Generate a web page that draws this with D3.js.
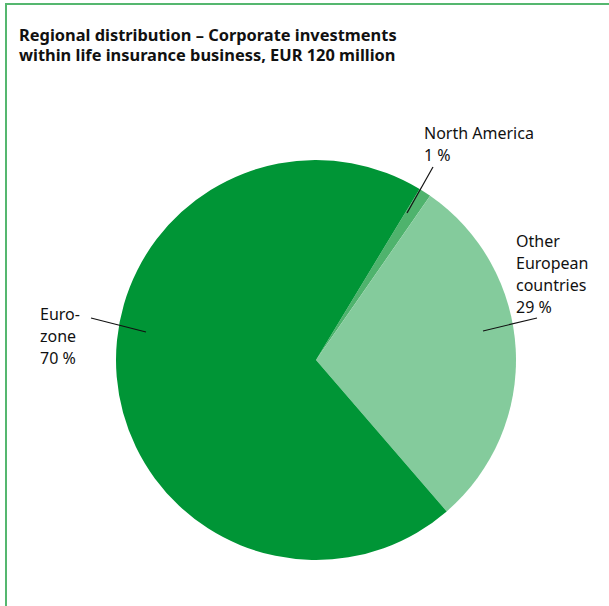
<!DOCTYPE html>
<html>
<head>
<meta charset="utf-8">
<script src="https://cdn.jsdelivr.net/npm/d3@7"></script>
<style>
  body { margin: 0; background: #fff; }
  text { font-family: "Noto Sans", sans-serif; fill: #111; }
</style>
</head>
<body>
<div id="chart"></div>
<script>
var svgWidth = 609;
var svgHeight = 606;

// data
var regions = ["North America", "Other European countries", "Eurozone"];
var shares = [1, 29, 70];
var colors = ["#4fb36d", "#84cb9c", "#009536"];
var titleLines = ["Regional distribution \u2013 Corporate investments",
                  "within life insurance business, EUR 120 million"];

var cx = 316, cy = 360, radius = 200;

var svg = d3.select("#chart")
  .append("svg")
  .attr("width", svgWidth)
  .attr("height", svgHeight);

// frame: top and left rule
svg.append("path")
  .attr("d", `M6,${svgHeight} V4 H${svgWidth}`)
  .attr("fill", "none")
  .attr("stroke", "#55b76f")
  .attr("stroke-width", 2);

// title
svg.append("text")
  .attr("x", 19)
  .attr("y", 41)
  .style("font-size", "16.4px")
  .style("font-weight", "bold")
  .selectAll("tspan")
  .data(titleLines)
  .enter()
  .append("tspan")
  .attr("x", 19)
  .attr("dy", (d, i) => i === 0 ? 0 : 20)
  .text(d => d);

var pie = d3.pie()
  .sort(null)
  .startAngle(31.2 * Math.PI / 180)
  .endAngle(31.2 * Math.PI / 180 + 2 * Math.PI);

var arc = d3.arc().innerRadius(0).outerRadius(radius);

var chartGroup = svg.append("g")
  .attr("transform", `translate(${cx}, ${cy})`);

chartGroup.selectAll("path")
  .data(pie(shares))
  .enter()
  .append("path")
  .attr("d", arc)
  .attr("fill", (d, i) => colors[i]);

// labels with leader lines (anchor points relative to page)
var labels = [
  { lines: ["North America", "1 %"], x: 424, y: 139, line: [[433, 167], [407, 213]] },
  { lines: ["Other", "European", "countries", "29 %"], x: 516, y: 247, line: [[537, 318], [483, 331]] },
  { lines: ["Euro-", "zone", "70 %"], x: 40, y: 320, line: [[91, 318], [146, 332]] }
];

labels.forEach(function(lab) {
  svg.append("line")
    .attr("x1", lab.line[0][0])
    .attr("y1", lab.line[0][1])
    .attr("x2", lab.line[1][0])
    .attr("y2", lab.line[1][1])
    .attr("stroke", "#111")
    .attr("stroke-width", 1.2);

  svg.append("text")
    .style("font-size", "16px")
    .selectAll("tspan")
    .data(lab.lines)
    .enter()
    .append("tspan")
    .attr("x", lab.x)
    .attr("y", (d, i) => lab.y + i * 22)
    .text(d => d);
});
</script>
</body>
</html>
